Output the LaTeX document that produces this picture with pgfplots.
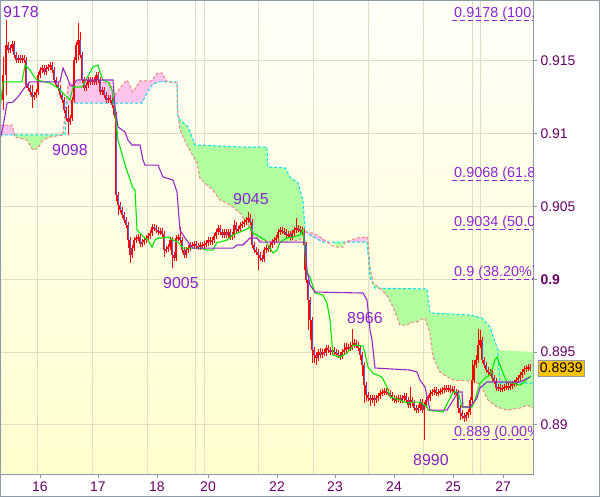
\documentclass[border=0pt]{standalone}
\usepackage{pgfplots}
\pgfplotsset{compat=1.18}
\usepackage{pgfplotstable}
\usepackage{fontspec}
\setmainfont{Liberation Sans}
\definecolor{bgtop}{RGB}{255,255,248}
\definecolor{bgbot}{RGB}{255,255,206}
\definecolor{framegray}{RGB}{140,155,165}
\definecolor{gridc}{RGB}{222,222,196}
\definecolor{tickc}{RGB}{102,0,102}
\definecolor{labc}{RGB}{136,34,204}
\definecolor{fibc}{RGB}{140,40,210}
\definecolor{tenkan}{RGB}{0,230,0}
\definecolor{kijun}{RGB}{150,40,200}
\definecolor{cloudg}{RGB}{178,255,160}
\definecolor{cloudp}{RGB}{255,196,236}
\definecolor{spana}{RGB}{0,220,240}
\definecolor{spanb}{RGB}{240,130,130}
\definecolor{candle}{RGB}{255,0,0}
\definecolor{bear}{RGB}{110,80,200}
\definecolor{pricebox}{RGB}{255,196,0}

\pgfplotstableread{
x o h l c
3 0.91232 0.91527 0.91163 0.91404
6 0.91404 0.91782 0.91266 0.91610
8 0.91610 0.91631 0.91554 0.91575
10 0.91575 0.91610 0.91554 0.91589
12 0.91589 0.91638 0.91568 0.91617
14 0.91617 0.91638 0.91520 0.91541
16 0.91541 0.91562 0.91486 0.91507
18 0.91507 0.91542 0.91486 0.91521
20 0.91521 0.91542 0.91486 0.91507
22 0.91507 0.91542 0.91486 0.91521
24 0.91521 0.91542 0.91486 0.91507
26 0.91507 0.91528 0.91314 0.91335
28 0.91335 0.91356 0.91293 0.91314
30 0.91314 0.91335 0.91266 0.91287
32 0.91287 0.91335 0.91177 0.91253
34 0.91253 0.91287 0.91232 0.91266
36 0.91266 0.91308 0.91245 0.91287
38 0.91287 0.91425 0.91266 0.91404
40 0.91404 0.91459 0.91383 0.91438
42 0.91438 0.91473 0.91417 0.91452
44 0.91452 0.91473 0.91403 0.91424
46 0.91424 0.91473 0.91403 0.91452
48 0.91452 0.91480 0.91431 0.91459
50 0.91459 0.91493 0.91438 0.91472
52 0.91472 0.91493 0.91417 0.91438
54 0.91438 0.91459 0.91348 0.91369
56 0.91369 0.91390 0.91314 0.91335
58 0.91335 0.91356 0.91293 0.91314
60 0.91314 0.91335 0.91245 0.91266
62 0.91266 0.91287 0.91211 0.91232
64 0.91232 0.91253 0.91142 0.91163
66 0.91163 0.91184 0.91087 0.91108
68 0.91108 0.91198 0.90992 0.91081
70 0.91081 0.91129 0.91060 0.91108
72 0.91108 0.91253 0.91087 0.91232
74 0.91232 0.91528 0.91211 0.91507
76 0.91507 0.91631 0.91486 0.91610
78 0.91610 0.91761 0.91507 0.91644
80 0.91644 0.91700 0.91520 0.91541
82 0.91541 0.91562 0.91348 0.91369
84 0.91369 0.91390 0.91293 0.91314
86 0.91314 0.91356 0.91293 0.91335
88 0.91335 0.91390 0.91314 0.91369
90 0.91369 0.91390 0.91335 0.91356
92 0.91356 0.91390 0.91335 0.91369
94 0.91369 0.91390 0.91335 0.91356
96 0.91356 0.91425 0.91335 0.91404
98 0.91404 0.91425 0.91348 0.91369
100 0.91369 0.91390 0.91266 0.91287
102 0.91287 0.91322 0.91266 0.91301
104 0.91301 0.91322 0.91245 0.91266
106 0.91266 0.91287 0.91211 0.91232
108 0.91232 0.91267 0.91211 0.91246
110 0.91246 0.91267 0.91211 0.91232
112 0.91232 0.91253 0.91177 0.91198
114 0.91198 0.91219 0.91108 0.91129
116 0.91129 0.91150 0.90540 0.90579
118 0.90579 0.90600 0.90442 0.90511
120 0.90511 0.90532 0.90455 0.90476
122 0.90476 0.90497 0.90421 0.90442
124 0.90442 0.90463 0.90387 0.90408
126 0.90408 0.90429 0.90352 0.90373
128 0.90373 0.90394 0.90215 0.90270
130 0.90270 0.90291 0.90112 0.90167
132 0.90167 0.90236 0.90146 0.90215
134 0.90215 0.90291 0.90194 0.90270
136 0.90270 0.90305 0.90249 0.90284
138 0.90284 0.90312 0.90263 0.90291
140 0.90291 0.90312 0.90222 0.90243
142 0.90243 0.90277 0.90222 0.90256
144 0.90256 0.90291 0.90235 0.90270
146 0.90270 0.90305 0.90249 0.90284
148 0.90284 0.90319 0.90263 0.90298
150 0.90298 0.90339 0.90277 0.90318
152 0.90318 0.90381 0.90297 0.90360
154 0.90360 0.90381 0.90332 0.90353
156 0.90353 0.90374 0.90318 0.90339
158 0.90339 0.90360 0.90304 0.90325
160 0.90325 0.90353 0.90304 0.90332
162 0.90332 0.90353 0.90290 0.90311
164 0.90311 0.90332 0.90153 0.90201
166 0.90201 0.90229 0.90180 0.90208
168 0.90208 0.90243 0.90187 0.90222
170 0.90222 0.90291 0.90201 0.90270
172 0.90270 0.90291 0.90078 0.90167
174 0.90167 0.90188 0.90126 0.90147
176 0.90147 0.90305 0.90126 0.90284
178 0.90284 0.90312 0.90263 0.90291
180 0.90291 0.90360 0.90249 0.90270
182 0.90270 0.90291 0.90180 0.90201
184 0.90201 0.90222 0.90146 0.90167
186 0.90167 0.90222 0.90146 0.90201
188 0.90201 0.90236 0.90180 0.90215
190 0.90215 0.90257 0.90194 0.90236
192 0.90236 0.90257 0.90208 0.90229
194 0.90229 0.90264 0.90208 0.90243
196 0.90243 0.90264 0.90208 0.90229
198 0.90229 0.90250 0.90201 0.90222
200 0.90222 0.90257 0.90201 0.90236
202 0.90236 0.90257 0.90208 0.90229
204 0.90229 0.90264 0.90208 0.90243
206 0.90243 0.90271 0.90222 0.90250
208 0.90250 0.90291 0.90229 0.90270
210 0.90270 0.90291 0.90235 0.90256
212 0.90256 0.90291 0.90235 0.90270
214 0.90270 0.90319 0.90249 0.90298
216 0.90298 0.90346 0.90277 0.90325
218 0.90325 0.90374 0.90304 0.90353
220 0.90353 0.90374 0.90304 0.90325
222 0.90325 0.90346 0.90284 0.90305
224 0.90305 0.90346 0.90284 0.90325
226 0.90325 0.90346 0.90284 0.90305
228 0.90305 0.90346 0.90284 0.90325
230 0.90325 0.90346 0.90270 0.90291
232 0.90291 0.90326 0.90270 0.90305
234 0.90305 0.90408 0.90284 0.90373
236 0.90373 0.90394 0.90318 0.90339
238 0.90339 0.90367 0.90318 0.90346
240 0.90346 0.90394 0.90325 0.90373
242 0.90373 0.90401 0.90352 0.90380
244 0.90380 0.90415 0.90359 0.90394
246 0.90394 0.90429 0.90373 0.90408
248 0.90408 0.90463 0.90387 0.90421
250 0.90421 0.90450 0.90373 0.90394
252 0.90394 0.90415 0.90215 0.90236
254 0.90236 0.90257 0.90180 0.90201
256 0.90201 0.90222 0.90167 0.90188
258 0.90188 0.90209 0.90064 0.90167
260 0.90167 0.90188 0.90126 0.90147
262 0.90147 0.90168 0.90119 0.90140
264 0.90140 0.90222 0.90119 0.90201
266 0.90201 0.90236 0.90180 0.90215
268 0.90215 0.90236 0.90187 0.90208
270 0.90208 0.90257 0.90187 0.90236
272 0.90236 0.90277 0.90215 0.90256
274 0.90256 0.90291 0.90235 0.90270
276 0.90270 0.90305 0.90249 0.90284
278 0.90284 0.90346 0.90263 0.90325
280 0.90325 0.90360 0.90304 0.90339
282 0.90339 0.90360 0.90311 0.90332
284 0.90332 0.90353 0.90304 0.90325
286 0.90325 0.90346 0.90284 0.90305
288 0.90305 0.90333 0.90284 0.90312
290 0.90312 0.90333 0.90270 0.90291
292 0.90291 0.90339 0.90270 0.90318
294 0.90318 0.90360 0.90297 0.90339
296 0.90339 0.90421 0.90318 0.90353
298 0.90353 0.90374 0.90325 0.90346
300 0.90346 0.90367 0.90318 0.90339
302 0.90339 0.90360 0.90304 0.90325
304 0.90325 0.90346 0.90064 0.90236
306 0.90236 0.90257 0.89974 0.89995
308 0.89995 0.90016 0.89652 0.89858
310 0.89858 0.89879 0.89583 0.89721
312 0.89721 0.89742 0.89425 0.89514
314 0.89514 0.89535 0.89425 0.89480
316 0.89480 0.89501 0.89411 0.89460
318 0.89460 0.89521 0.89439 0.89501
320 0.89501 0.89528 0.89459 0.89480
322 0.89480 0.89522 0.89459 0.89501
324 0.89501 0.89522 0.89473 0.89494
326 0.89494 0.89549 0.89473 0.89528
328 0.89528 0.89549 0.89493 0.89514
330 0.89514 0.89535 0.89480 0.89501
332 0.89501 0.89535 0.89480 0.89514
334 0.89514 0.89535 0.89480 0.89501
336 0.89501 0.89522 0.89473 0.89494
338 0.89494 0.89515 0.89459 0.89480
340 0.89480 0.89501 0.89446 0.89473
342 0.89473 0.89522 0.89452 0.89501
344 0.89501 0.89563 0.89480 0.89514
346 0.89514 0.89563 0.89493 0.89535
348 0.89535 0.89556 0.89507 0.89528
350 0.89528 0.89570 0.89507 0.89535
352 0.89535 0.89660 0.89514 0.89549
354 0.89549 0.89590 0.89528 0.89563
356 0.89563 0.89584 0.89528 0.89549
358 0.89549 0.89570 0.89507 0.89528
360 0.89528 0.89549 0.89446 0.89480
362 0.89480 0.89501 0.89340 0.89411
364 0.89411 0.89432 0.89150 0.89274
366 0.89274 0.89295 0.89164 0.89205
368 0.89205 0.89226 0.89164 0.89185
370 0.89185 0.89206 0.89130 0.89171
372 0.89171 0.89206 0.89150 0.89185
374 0.89185 0.89206 0.89130 0.89171
376 0.89171 0.89206 0.89150 0.89185
378 0.89185 0.89219 0.89164 0.89198
380 0.89198 0.89240 0.89177 0.89219
382 0.89219 0.89247 0.89198 0.89226
384 0.89226 0.89254 0.89205 0.89233
386 0.89233 0.89254 0.89205 0.89226
388 0.89226 0.89247 0.89198 0.89219
390 0.89219 0.89240 0.89184 0.89205
392 0.89205 0.89226 0.89164 0.89185
394 0.89185 0.89206 0.89150 0.89171
396 0.89171 0.89199 0.89150 0.89178
398 0.89178 0.89206 0.89157 0.89185
400 0.89185 0.89206 0.89150 0.89171
402 0.89171 0.89206 0.89150 0.89185
404 0.89185 0.89219 0.89164 0.89198
406 0.89198 0.89219 0.89150 0.89171
408 0.89171 0.89192 0.89116 0.89137
410 0.89137 0.89260 0.89116 0.89171
412 0.89171 0.89192 0.89129 0.89150
414 0.89150 0.89171 0.89095 0.89116
416 0.89116 0.89137 0.89081 0.89102
418 0.89102 0.89137 0.89081 0.89116
420 0.89116 0.89178 0.89095 0.89157
422 0.89157 0.89178 0.89081 0.89102
424 0.89102 0.89158 0.88896 0.89137
426 0.89137 0.89192 0.89116 0.89171
428 0.89171 0.89206 0.89150 0.89185
430 0.89185 0.89240 0.89164 0.89219
432 0.89219 0.89247 0.89198 0.89226
434 0.89226 0.89261 0.89205 0.89240
436 0.89240 0.89261 0.89198 0.89219
438 0.89219 0.89247 0.89198 0.89226
440 0.89226 0.89254 0.89205 0.89233
442 0.89233 0.89261 0.89212 0.89240
444 0.89240 0.89274 0.89219 0.89253
446 0.89253 0.89274 0.89226 0.89247
448 0.89247 0.89274 0.89226 0.89253
450 0.89253 0.89274 0.89219 0.89240
452 0.89240 0.89268 0.89219 0.89247
454 0.89247 0.89268 0.89205 0.89226
456 0.89226 0.89247 0.89198 0.89219
458 0.89219 0.89240 0.89082 0.89116
460 0.89116 0.89137 0.89034 0.89082
462 0.89082 0.89103 0.89040 0.89061
464 0.89061 0.89082 0.89020 0.89047
466 0.89047 0.89089 0.89026 0.89068
468 0.89068 0.89110 0.89047 0.89089
470 0.89089 0.89192 0.89068 0.89171
472 0.89171 0.89446 0.89150 0.89308
474 0.89308 0.89446 0.89287 0.89411
476 0.89411 0.89480 0.89390 0.89446
478 0.89446 0.89660 0.89425 0.89549
480 0.89549 0.89652 0.89528 0.89583
482 0.89583 0.89604 0.89425 0.89446
484 0.89446 0.89467 0.89390 0.89411
486 0.89411 0.89432 0.89356 0.89377
488 0.89377 0.89398 0.89342 0.89363
490 0.89363 0.89384 0.89335 0.89356
492 0.89356 0.89377 0.89301 0.89322
494 0.89322 0.89343 0.89281 0.89302
496 0.89302 0.89323 0.89232 0.89253
498 0.89253 0.89281 0.89232 0.89260
500 0.89260 0.89281 0.89226 0.89247
502 0.89247 0.89274 0.89226 0.89253
504 0.89253 0.89281 0.89232 0.89260
506 0.89260 0.89288 0.89239 0.89267
508 0.89267 0.89288 0.89239 0.89260
510 0.89260 0.89288 0.89239 0.89267
512 0.89267 0.89302 0.89246 0.89281
514 0.89281 0.89309 0.89260 0.89288
516 0.89288 0.89329 0.89267 0.89308
518 0.89308 0.89343 0.89287 0.89322
520 0.89322 0.89364 0.89301 0.89343
522 0.89343 0.89384 0.89322 0.89363
524 0.89363 0.89405 0.89342 0.89384
526 0.89384 0.89412 0.89363 0.89391
528 0.89391 0.89419 0.89370 0.89398
530 0.89398 0.89419 0.89370 0.89391
}\candles

\begin{document}
\begin{tikzpicture}
\path[use as bounding box] (0,0) rectangle (600bp,497bp);
\fill[white] (0,0) rectangle (600bp,497bp);
\begin{axis}[
  at={(0bp,23bp)}, anchor=south west,
  scale only axis, width=533bp, height=473bp,
  xmin=0, xmax=533, ymin=0.88663, ymax=0.91912,
  clip=false,
  axis background/.style={top color=bgtop, bottom color=bgbot},
  axis line style={draw=framegray, line width=1bp},
  xtick={40,98,157,208,277,335,394,453,503},
  xticklabels={16,17,18,20,22,23,24,25,27},
  ytick={0.89,0.895,0.9,0.905,0.91,0.915},
  yticklabels={0.89,0.895,\textbf{0.9},0.905,0.91,0.915},
  scaled y ticks=false,
  xtick pos=bottom, ytick pos=right, yticklabel pos=right,
  tick align=outside, major tick length=4bp,
  tick style={draw=framegray, line width=1bp},
  ymajorgrids, grid style={draw=gridc, line width=1bp},
  extra x ticks={37,92,147,195,204,258,313,368,423,472,480},
  extra x tick labels={},
  extra x tick style={xmajorgrids=true, major tick length=0pt},
  ticklabel style={font=\fontsize{14}{16}\selectfont, text=tickc},
]
% cloud fills
\addplot[fill=cloudp, draw=none] coordinates {(0,0.91060) (12,0.91060) (15,0.90992) (0,0.90992)} -- cycle;
\addplot[fill=cloudg, draw=none] coordinates {(15,0.90992) (65,0.90992) (50,0.90978) (43,0.90957) (38,0.90902) (33,0.90888) (27,0.90957) (15,0.90978)} -- cycle;
\addplot[fill=cloudp, draw=none] coordinates {(65,0.90992) (68,0.91335) (70,0.91349) (80,0.91356) (95,0.91356) (110,0.91349) (115,0.91266) (120,0.91314) (127,0.91369) (133,0.91287) (140,0.91363) (152,0.91363) (157,0.91417) (162,0.91417) (167,0.91356) (177,0.91356) (158,0.91356) (152,0.91335) (147,0.91280) (142,0.91211) (67,0.91211)} -- cycle;
\addplot[fill=cloudg, draw=none] coordinates {(177,0.91356) (178,0.91115) (180,0.91095) (188,0.91047) (195,0.90923) (243,0.90909) (267,0.90909) (268,0.90772) (285,0.90765) (290,0.90703) (298,0.90662) (300,0.90614) (303,0.90545) (305,0.90339) (300,0.90270) (280,0.90256) (260,0.90270) (253,0.90305) (247,0.90387) (240,0.90456) (233,0.90497) (227,0.90524) (220,0.90545) (213,0.90614) (207,0.90648) (200,0.90696) (197,0.90799) (188,0.90909) (180,0.91026) (177,0.91184)} -- cycle;
\addplot[fill=cloudp, draw=none] coordinates {(305,0.90325) (313,0.90318) (322,0.90284) (327,0.90256) (335,0.90250) (345,0.90256) (357,0.90284) (367,0.90291) (367,0.90256) (323,0.90256) (310,0.90298)} -- cycle;
\addplot[fill=cloudg, draw=none] coordinates {(333,0.90256) (345,0.90256) (341,0.90222) (337,0.90222)} -- cycle;
\addplot[fill=cloudg, draw=none] coordinates {(367,0.90256) (370,0.90016) (375,0.89940) (427,0.89934) (430,0.89769) (470,0.89755) (482,0.89734) (490,0.89673) (492,0.89631) (498,0.89514) (533,0.89501) (533,0.89116) (527,0.89137) (520,0.89116) (507,0.89102) (497,0.89123) (488,0.89171) (483,0.89240) (478,0.89288) (470,0.89302) (453,0.89308) (440,0.89363) (433,0.89466) (430,0.89631) (425,0.89734) (420,0.89721) (417,0.89707) (412,0.89707) (407,0.89686) (400,0.89686) (393,0.89810) (388,0.89879) (382,0.89927) (373,0.89975) (370,0.90085) (368,0.90270)} -- cycle;
% senkou span lines
\addplot[spana, line width=1bp, dash pattern=on 3bp off 2bp] coordinates {(0,0.90992) (65,0.90992) (67,0.91211) (142,0.91211) (147,0.91280) (152,0.91335) (158,0.91356) (177,0.91356) (178,0.91115) (180,0.91095) (188,0.91047) (195,0.90923) (243,0.90909) (267,0.90909) (268,0.90772) (285,0.90765) (290,0.90703) (298,0.90662) (300,0.90614) (303,0.90545) (305,0.90339) (310,0.90305) (323,0.90256) (367,0.90256) (370,0.90016) (375,0.89940) (427,0.89934) (430,0.89769) (470,0.89755) (482,0.89734) (490,0.89673) (492,0.89631) (498,0.89514) (498,0.89466) (500,0.89288) (533,0.89288)};
\addplot[spanb, line width=1bp, dash pattern=on 3bp off 2bp] coordinates {(0,0.91060) (12,0.91060) (15,0.90978) (27,0.90957) (33,0.90888) (38,0.90902) (43,0.90957) (50,0.90978) (63,0.90992) (68,0.91335) (70,0.91349) (80,0.91356) (95,0.91356) (110,0.91349) (115,0.91266) (120,0.91314) (127,0.91369) (133,0.91287) (140,0.91363) (152,0.91363) (157,0.91417) (162,0.91417) (167,0.91356) (177,0.91349) (177,0.91184) (180,0.91026) (188,0.90909) (197,0.90799) (200,0.90696) (207,0.90648) (213,0.90614) (220,0.90545) (227,0.90524) (233,0.90497) (240,0.90456) (247,0.90387) (253,0.90305) (260,0.90270) (280,0.90256) (300,0.90270) (305,0.90325) (313,0.90318) (322,0.90284) (327,0.90256) (335,0.90222) (343,0.90222) (345,0.90256) (357,0.90284) (367,0.90291) (368,0.90270) (370,0.90085) (373,0.89975) (382,0.89927) (388,0.89879) (393,0.89810) (400,0.89686) (407,0.89686) (412,0.89707) (417,0.89707) (420,0.89721) (425,0.89734) (430,0.89631) (433,0.89466) (440,0.89363) (453,0.89308) (470,0.89302) (478,0.89288) (483,0.89240) (488,0.89171) (497,0.89123) (507,0.89102) (520,0.89116) (527,0.89137) (533,0.89116)};
% fibonacci levels
\addplot[fibc, line width=1bp, dash pattern=on 5bp off 3bp] coordinates {(452,0.9178) (533,0.9178)};
\addplot[fibc, line width=1bp, dash pattern=on 5bp off 3bp] coordinates {(452,0.9068) (533,0.9068)};
\addplot[fibc, line width=1bp, dash pattern=on 5bp off 3bp] coordinates {(452,0.9034) (533,0.9034)};
\addplot[fibc, line width=1bp, dash pattern=on 5bp off 3bp] coordinates {(452,0.9) (533,0.9)};
\addplot[fibc, line width=1bp, dash pattern=on 5bp off 3bp] coordinates {(452,0.889) (533,0.889)};
% candles
\addplot[draw=none, mark=none, error bars/.cd, y dir=both, y explicit, error mark=none,
  error bar style={draw=candle, line width=1bp}]
  table[x=x, y expr={(\thisrow{h}+\thisrow{l})/2}, y error expr={(\thisrow{h}-\thisrow{l})/2}] {\candles};
\addplot[draw=none, mark=none, error bars/.cd, y dir=both, y explicit, error mark=none,
  error bar style={draw=candle, line width=2.8bp}]
  table[x=x, y expr={(\thisrow{o}+\thisrow{c})/2}, y error expr={abs(\thisrow{c}-\thisrow{o})/2}] {\candles};
\addplot[draw=none, mark=none, error bars/.cd, y dir=both, y explicit, error mark=none,
  error bar style={draw=bear, line width=0.9bp}]
  table[x=x, y expr={(\thisrow{o}+\thisrow{c})/2}, y error expr={max(\thisrow{o}-\thisrow{c}-0.00004,0)/2}] {\candles};
% tenkan-sen
\addplot[tenkan, line width=1.1bp] coordinates {(0,0.91163) (3,0.91356) (22,0.91356) (25,0.91472) (30,0.91438) (33,0.91404) (37,0.91369) (50,0.91349) (58,0.91314) (65,0.91266) (70,0.91232) (73,0.91321) (82,0.91321) (87,0.91383) (93,0.91459) (98,0.91472) (100,0.91424) (103,0.91369) (108,0.91356) (112,0.91301) (115,0.91163) (118,0.90957) (126,0.90765) (133,0.90627) (135,0.90614) (137,0.90339) (140,0.90318) (145,0.90284) (148,0.90270) (152,0.90222) (155,0.90270) (158,0.90284) (163,0.90284) (168,0.90291) (173,0.90270) (178,0.90256) (183,0.90215) (200,0.90215) (207,0.90201) (213,0.90201) (217,0.90256) (220,0.90256) (227,0.90270) (233,0.90305) (240,0.90325) (247,0.90346) (250,0.90360) (253,0.90318) (257,0.90305) (260,0.90291) (265,0.90270) (270,0.90215) (273,0.90181) (277,0.90201) (280,0.90256) (287,0.90284) (293,0.90291) (300,0.90305) (303,0.90339) (307,0.90043) (310,0.90016) (315,0.89906) (323,0.89892) (327,0.89837) (330,0.89721) (333,0.89480) (340,0.89466) (347,0.89494) (352,0.89535) (353,0.89549) (363,0.89542) (365,0.89494) (368,0.89398) (373,0.89356) (382,0.89329) (387,0.89260) (390,0.89192) (400,0.89171) (407,0.89150) (413,0.89157) (420,0.89157) (427,0.89123) (428,0.89102) (443,0.89089) (448,0.89157) (453,0.89226) (458,0.89226) (462,0.89123) (472,0.89123) (475,0.89171) (480,0.89288) (485,0.89322) (490,0.89343) (495,0.89446) (497,0.89466) (500,0.89411) (503,0.89356) (507,0.89295) (513,0.89288) (520,0.89274) (523,0.89288) (528,0.89322) (531,0.89336)};
% kijun-sen
\addplot[kijun, line width=1.1bp] coordinates {(0,0.90957) (3,0.91047) (7,0.91211) (13,0.91218) (18,0.91253) (25,0.91321) (30,0.91356) (60,0.91356) (63,0.91452) (67,0.91390) (70,0.91335) (72,0.91328) (77,0.91369) (113,0.91369) (115,0.91184) (118,0.91047) (125,0.91012) (128,0.90957) (132,0.90923) (140,0.90923) (143,0.90820) (145,0.90785) (158,0.90785) (160,0.90751) (163,0.90703) (173,0.90682) (177,0.90600) (180,0.90339) (183,0.90305) (190,0.90236) (193,0.90215) (233,0.90215) (237,0.90236) (243,0.90236) (250,0.90284) (257,0.90284) (260,0.90256) (305,0.90256) (307,0.90064) (310,0.89961) (315,0.89913) (363,0.89906) (367,0.89858) (370,0.89652) (372,0.89583) (375,0.89391) (410,0.89377) (417,0.89363) (420,0.89308) (425,0.89260) (430,0.89102) (447,0.89102) (458,0.89226) (462,0.89226) (463,0.89123) (470,0.89123) (477,0.89185) (480,0.89253) (487,0.89295) (520,0.89295) (530,0.89329)};
% extreme labels
\node[anchor=base west, inner sep=0pt, text=labc, font=\fontsize{16}{18}\selectfont] at (axis cs:3,0.91802) {9178};
\node[anchor=base west, inner sep=0pt, text=labc, font=\fontsize{16}{18}\selectfont] at (axis cs:52,0.90854) {9098};
\node[anchor=base west, inner sep=0pt, text=labc, font=\fontsize{16}{18}\selectfont] at (axis cs:163,0.89940) {9005};
\node[anchor=base west, inner sep=0pt, text=labc, font=\fontsize{16}{18}\selectfont] at (axis cs:233,0.90511) {9045};
\node[anchor=base west, inner sep=0pt, text=labc, font=\fontsize{16}{18}\selectfont] at (axis cs:347,0.89700) {8966};
\node[anchor=base west, inner sep=0pt, text=labc, font=\fontsize{16}{18}\selectfont] at (axis cs:413,0.88724) {8990};
% fibonacci labels, clipped at the plot edge
\begin{scope}
\clip (axis cs:0,0.88663) rectangle (axis cs:533,0.91912);
\node[anchor=base west, inner sep=0pt, yshift=3bp, text=fibc, font=\fontsize{14.5}{16}\selectfont] at (axis cs:454,0.9178) {0.9178 (100.00\%)};
\node[anchor=base west, inner sep=0pt, yshift=3bp, text=fibc, font=\fontsize{14.5}{16}\selectfont] at (axis cs:454,0.9068) {0.9068 (61.80\%)};
\node[anchor=base west, inner sep=0pt, yshift=3bp, text=fibc, font=\fontsize{14.5}{16}\selectfont] at (axis cs:454,0.9034) {0.9034 (50.00\%)};
\node[anchor=base west, inner sep=0pt, yshift=3bp, text=fibc, font=\fontsize{14.5}{16}\selectfont] at (axis cs:454,0.9) {0.9 (38.20\%)};
\node[anchor=base west, inner sep=0pt, yshift=3bp, text=fibc, font=\fontsize{14.5}{16}\selectfont] at (axis cs:454,0.889) {0.889 (0.00\%)};
\end{scope}
% current price box
\node[anchor=west, xshift=5bp, fill=pricebox, draw=framegray, inner sep=0pt, minimum width=46bp, minimum height=16bp, font=\fontsize{14}{16}\selectfont, text=black] at (axis cs:533,0.8939) {0.8939};
\end{axis}
\draw[framegray, line width=1bp] (0.5bp,0.5bp) rectangle (599.5bp,496.5bp);
\end{tikzpicture}
\end{document}
